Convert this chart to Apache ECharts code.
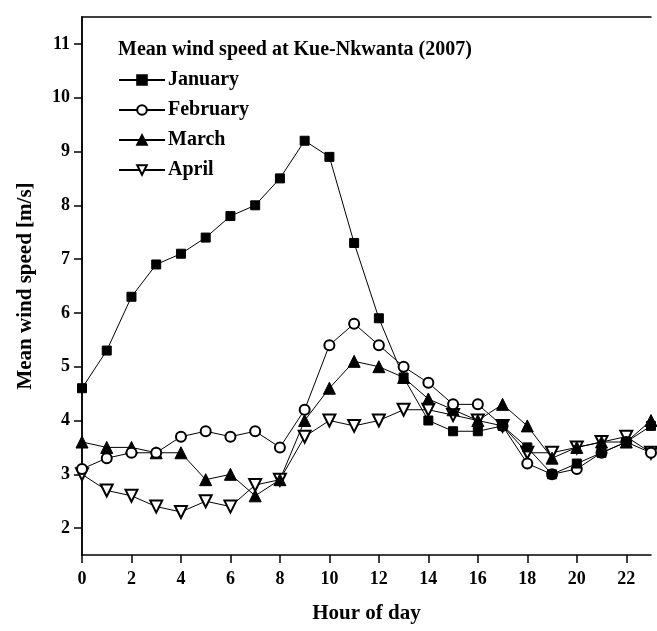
<!DOCTYPE html>
<html>
<head>
<meta charset="utf-8">
<script src="https://cdn.jsdelivr.net/npm/echarts@6/dist/echarts.min.js"></script>
<style>
  html, body { margin: 0; padding: 0; background: #fff; }
  #chart { width: 657px; height: 631px; }
</style>
</head>
<body>
<div id="chart"></div>
<script>
// hours 0..23
const hours = [0,1,2,3,4,5,6,7,8,9,10,11,12,13,14,15,16,17,18,19,20,21,22,23];
const january  = [4.6,5.3,6.3,6.9,7.1,7.4,7.8,8.0,8.5,9.2,8.9,7.3,5.9,4.8,4.0,3.8,3.8,3.9,3.5,3.0,3.2,3.4,3.6,3.9];
const february = [3.1,3.3,3.4,3.4,3.7,3.8,3.7,3.8,3.5,4.2,5.4,5.8,5.4,5.0,4.7,4.3,4.3,3.9,3.2,3.0,3.1,3.4,3.6,3.4];
const march    = [3.6,3.5,3.5,3.4,3.4,2.9,3.0,2.6,2.9,4.0,4.6,5.1,5.0,4.8,4.4,4.2,4.0,4.3,3.9,3.3,3.5,3.6,3.6,4.0];
const april    = [3.0,2.7,2.6,2.4,2.3,2.5,2.4,2.8,2.9,3.7,4.0,3.9,4.0,4.2,4.2,4.1,4.0,3.9,3.4,3.4,3.5,3.6,3.7,3.4];
const xTicks = [0,2,4,6,8,10,12,14,16,18,20,22];
const yTicks = [2,3,4,5,6,7,8,9,10,11];

const FONT = 'Liberation Serif';

let chart = echarts.init(document.getElementById('chart'));

function pairs(vals) {
  return hours.map((h, i) => [h, vals[i]]);
}

function line(name, vals, symbol, size, extra) {
  return Object.assign({
    name: name,
    type: 'line',
    data: pairs(vals),
    symbol: symbol,
    symbolSize: size,
    showAllSymbol: true,
    lineStyle: { color: '#000', width: 1 },
    itemStyle: { color: '#000', borderColor: '#000', borderWidth: 1 },
    emphasis: { disabled: true },
    animation: false
  }, extra || {});
}

let option = {
  backgroundColor: '#fff',
  textStyle: { fontFamily: FONT },
  title: {
    text: 'Mean wind speed at Kue-Nkwanta (2007)',
    left: 113,
    top: 35,
    textStyle: { fontFamily: FONT, fontSize: 20, fontWeight: 'bold', color: '#000' }
  },
  legend: {
    orient: 'vertical',
    left: 113,
    top: 65,
    itemWidth: 46,
    itemHeight: 12,
    itemGap: 10,
    textStyle: { fontFamily: FONT, fontSize: 20, fontWeight: 'bold', color: '#000', padding: [0, 0, 0, -2] },
    data: ['January', 'February', 'March', 'April']
  },
  grid: { left: 82, right: 6, top: 17, bottom: 76 },
  xAxis: [{
    type: 'value',
    min: 0,
    max: 23,
    name: 'Hour of day',
    nameLocation: 'middle',
    nameGap: 48,
    nameTextStyle: { fontFamily: FONT, fontSize: 21, fontWeight: 'bold', color: '#000' },
    axisLine: { lineStyle: { color: '#000', width: 1.5 } },
    axisTick: { show: true, length: 8, inside: false, customValues: xTicks, lineStyle: { color: '#000', width: 1.5 } },
    axisLabel: { customValues: xTicks, margin: 15, fontFamily: FONT, fontSize: 18, fontWeight: 'bold', color: '#000' },
    splitLine: { show: false }
  }, {
    type: 'value',
    position: 'top',
    min: 0,
    max: 23,
    axisLine: { show: true, lineStyle: { color: '#000', width: 1.5 } },
    axisTick: { show: false },
    axisLabel: { show: false },
    splitLine: { show: false }
  }],
  yAxis: [{
    type: 'value',
    min: 1.5,
    max: 11.5,
    name: 'Mean wind speed [m/s]',
    nameLocation: 'middle',
    nameGap: 46,
    nameTextStyle: { fontFamily: FONT, fontSize: 21, fontWeight: 'bold', color: '#000' },
    axisLine: { show: true, lineStyle: { color: '#000', width: 1.5 } },
    axisTick: { show: true, length: 8, customValues: yTicks, lineStyle: { color: '#000', width: 1.5 } },
    axisLabel: { customValues: yTicks, margin: 12, fontFamily: FONT, fontSize: 18, fontWeight: 'bold', color: '#000' },
    splitLine: { show: false }
  }, {
    type: 'value',
    position: 'right',
    min: 1.5,
    max: 11.5,
    axisLine: { show: true, lineStyle: { color: '#000', width: 1.5 } },
    axisTick: { show: false },
    axisLabel: { show: false },
    splitLine: { show: false }
  }],
  series: [
    line('April', april, 'emptyTriangle', 12, { symbolRotate: 180 }),
    line('March', march, 'triangle', 12),
    line('February', february, 'emptyCircle', 10),
    line('January', january, 'rect', 9)
  ]
};

option && chart.setOption(option);
</script>
</body>
</html>
